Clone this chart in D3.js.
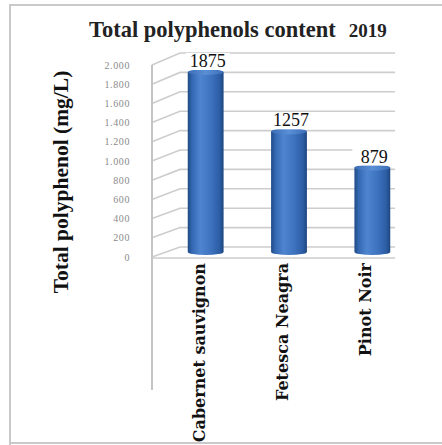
<!DOCTYPE html>
<html><head><meta charset="utf-8">
<script src="https://cdn.jsdelivr.net/npm/d3@7"></script>
<style>body{margin:0;background:#fff}svg{display:block}</style>
</head><body>
<script>
const categories = ["Cabernet sauvignon", "Fetesca Neagra", "Pinot Noir"];
const values = [1875, 1257, 879];
const yTicks = [0, 200, 400, 600, 800, 1000, 1200, 1400, 1600, 1800, 2000];
const tickLabels = ["0", "200", "400", "600", "800", "1.000", "1.200", "1.400", "1.600", "1.800", "2.000"];
const titleMain = "Total polyphenols content";
const titleYear = "2019";
const yTitle = "Total polyphenol (mg/L)";

const W = 442, H = 445;
const svg = d3.select("body").append("svg").attr("width", W).attr("height", H);

// frame
svg.append("path").attr("d", `M10,446 L10,5 L444,5`).attr("fill","none").attr("stroke","#c9c9c9").attr("stroke-width",2);
svg.append("line").attr("x1",10).attr("x2",444).attr("y1",443).attr("y2",443).attr("stroke","#c9c9c9").attr("stroke-width",2);

// scales: front plane, back plane, mid (bars)
const yFront = d3.scaleLinear().domain([0, 2000]).range([257, 65]);
const yBack = d3.scaleLinear().domain([0, 2000]).range([247, 53]);
const yMid = d3.scaleLinear().domain([0, 2000]).range([252, 60]);
const xFront0 = 152, xBack0 = 180, xRight = 395;
const x = d3.scaleBand().domain(categories).range([164, 414]).paddingInner(0.57).paddingOuter(0.285);

const grid = svg.append("g").attr("fill","none").attr("stroke","#cdcdcd").attr("stroke-width",1.6);
yTicks.forEach(v => {
  grid.append("path").attr("d", `M${xFront0},${yFront(v)} L${xBack0},${yBack(v)} L${xRight},${yBack(v)}`);
});
// floor front edge
grid.append("line").attr("x1", xFront0).attr("x2", xRight).attr("y1", yFront(0)+1).attr("y2", yFront(0)+1);
// left wall front edge (extended)
grid.append("line").attr("x1", xFront0).attr("x2", xFront0).attr("y1", yFront(2000)).attr("y2", 390).attr("stroke","#c4c4c4").attr("stroke-width",2);

// tick labels
svg.append("g").selectAll("text").data(yTicks).join("text")
  .attr("x", 130).attr("y", d => yFront(d)).attr("dy","0.35em")
  .attr("text-anchor","end").attr("font-family","Liberation Serif").attr("font-size",10)
  .attr("fill","#8a8a8a").attr("letter-spacing","0.6")
  .text((d,i) => tickLabels[i]);

// gradient for cylinders
const defs = svg.append("defs");
const g = defs.append("linearGradient").attr("id","cyl").attr("x1","0%").attr("x2","100%");
[["0%","#1f4a85"],["12%","#3468b2"],["35%","#4f85d0"],["65%","#3d72bf"],["88%","#2d5ea6"],["100%","#1d4680"]]
  .forEach(([o,c]) => g.append("stop").attr("offset",o).attr("stop-color",c));
const gt = defs.append("linearGradient").attr("id","cyltop").attr("x1","0%").attr("x2","100%");
[["0%","#3a6db5"],["50%","#5b8fd6"],["100%","#3a6db5"]].forEach(([o,c]) => gt.append("stop").attr("offset",o).attr("stop-color",c));

const ry = 3;
const bars = svg.append("g");
categories.forEach((c, i) => {
  const x0 = x(c), bw = x.bandwidth(), rx = bw/2;
  const yt = yMid(values[i]), yb = yMid(0);
  bars.append("path")
    .attr("d", `M${x0},${yt} L${x0},${yb} A${rx},${ry} 0 0 0 ${x0+bw},${yb} L${x0+bw},${yt} Z`)
    .attr("fill","url(#cyl)");
  bars.append("ellipse").attr("cx", x0+rx).attr("cy", yt).attr("rx", rx).attr("ry", ry).attr("fill","url(#cyltop)");
});

// value labels
const vl = svg.append("g");
categories.forEach((c, i) => {
  const cx = x(c) + x.bandwidth()/2 + 2;
  const by = yMid(values[i]) - 5;
  vl.append("rect").attr("x", cx-22).attr("y", by-14).attr("width",44).attr("height",17).attr("fill","#fff");
  vl.append("text").attr("x", cx).attr("y", by).attr("text-anchor","middle")
    .attr("font-family","Liberation Serif").attr("font-size",18).attr("fill","#111").text(values[i]);
});

// x labels
svg.append("g").selectAll("text").data(categories).join("text")
  .attr("transform", d => `translate(${x(d)+x.bandwidth()/2-1},263) rotate(-90)`)
  .attr("text-anchor","end").attr("font-family","DejaVu Serif").attr("font-weight","bold")
  .attr("font-size",16).attr("fill","#111").text(d => d);

// title
const t = svg.append("text").attr("x", 89).attr("y", 37).attr("font-family","Liberation Serif").attr("font-weight","bold").attr("fill","#222");
t.append("tspan").attr("font-size",22.5).text(titleMain);
t.append("tspan").attr("font-size",19).attr("dx",13).text(titleYear);

// y title
svg.append("text").attr("transform","translate(68,182) rotate(-90)").attr("text-anchor","middle")
  .attr("font-family","Liberation Serif").attr("font-weight","bold").attr("font-size",21.5).attr("fill","#111").text(yTitle);
</script>
</body></html>
